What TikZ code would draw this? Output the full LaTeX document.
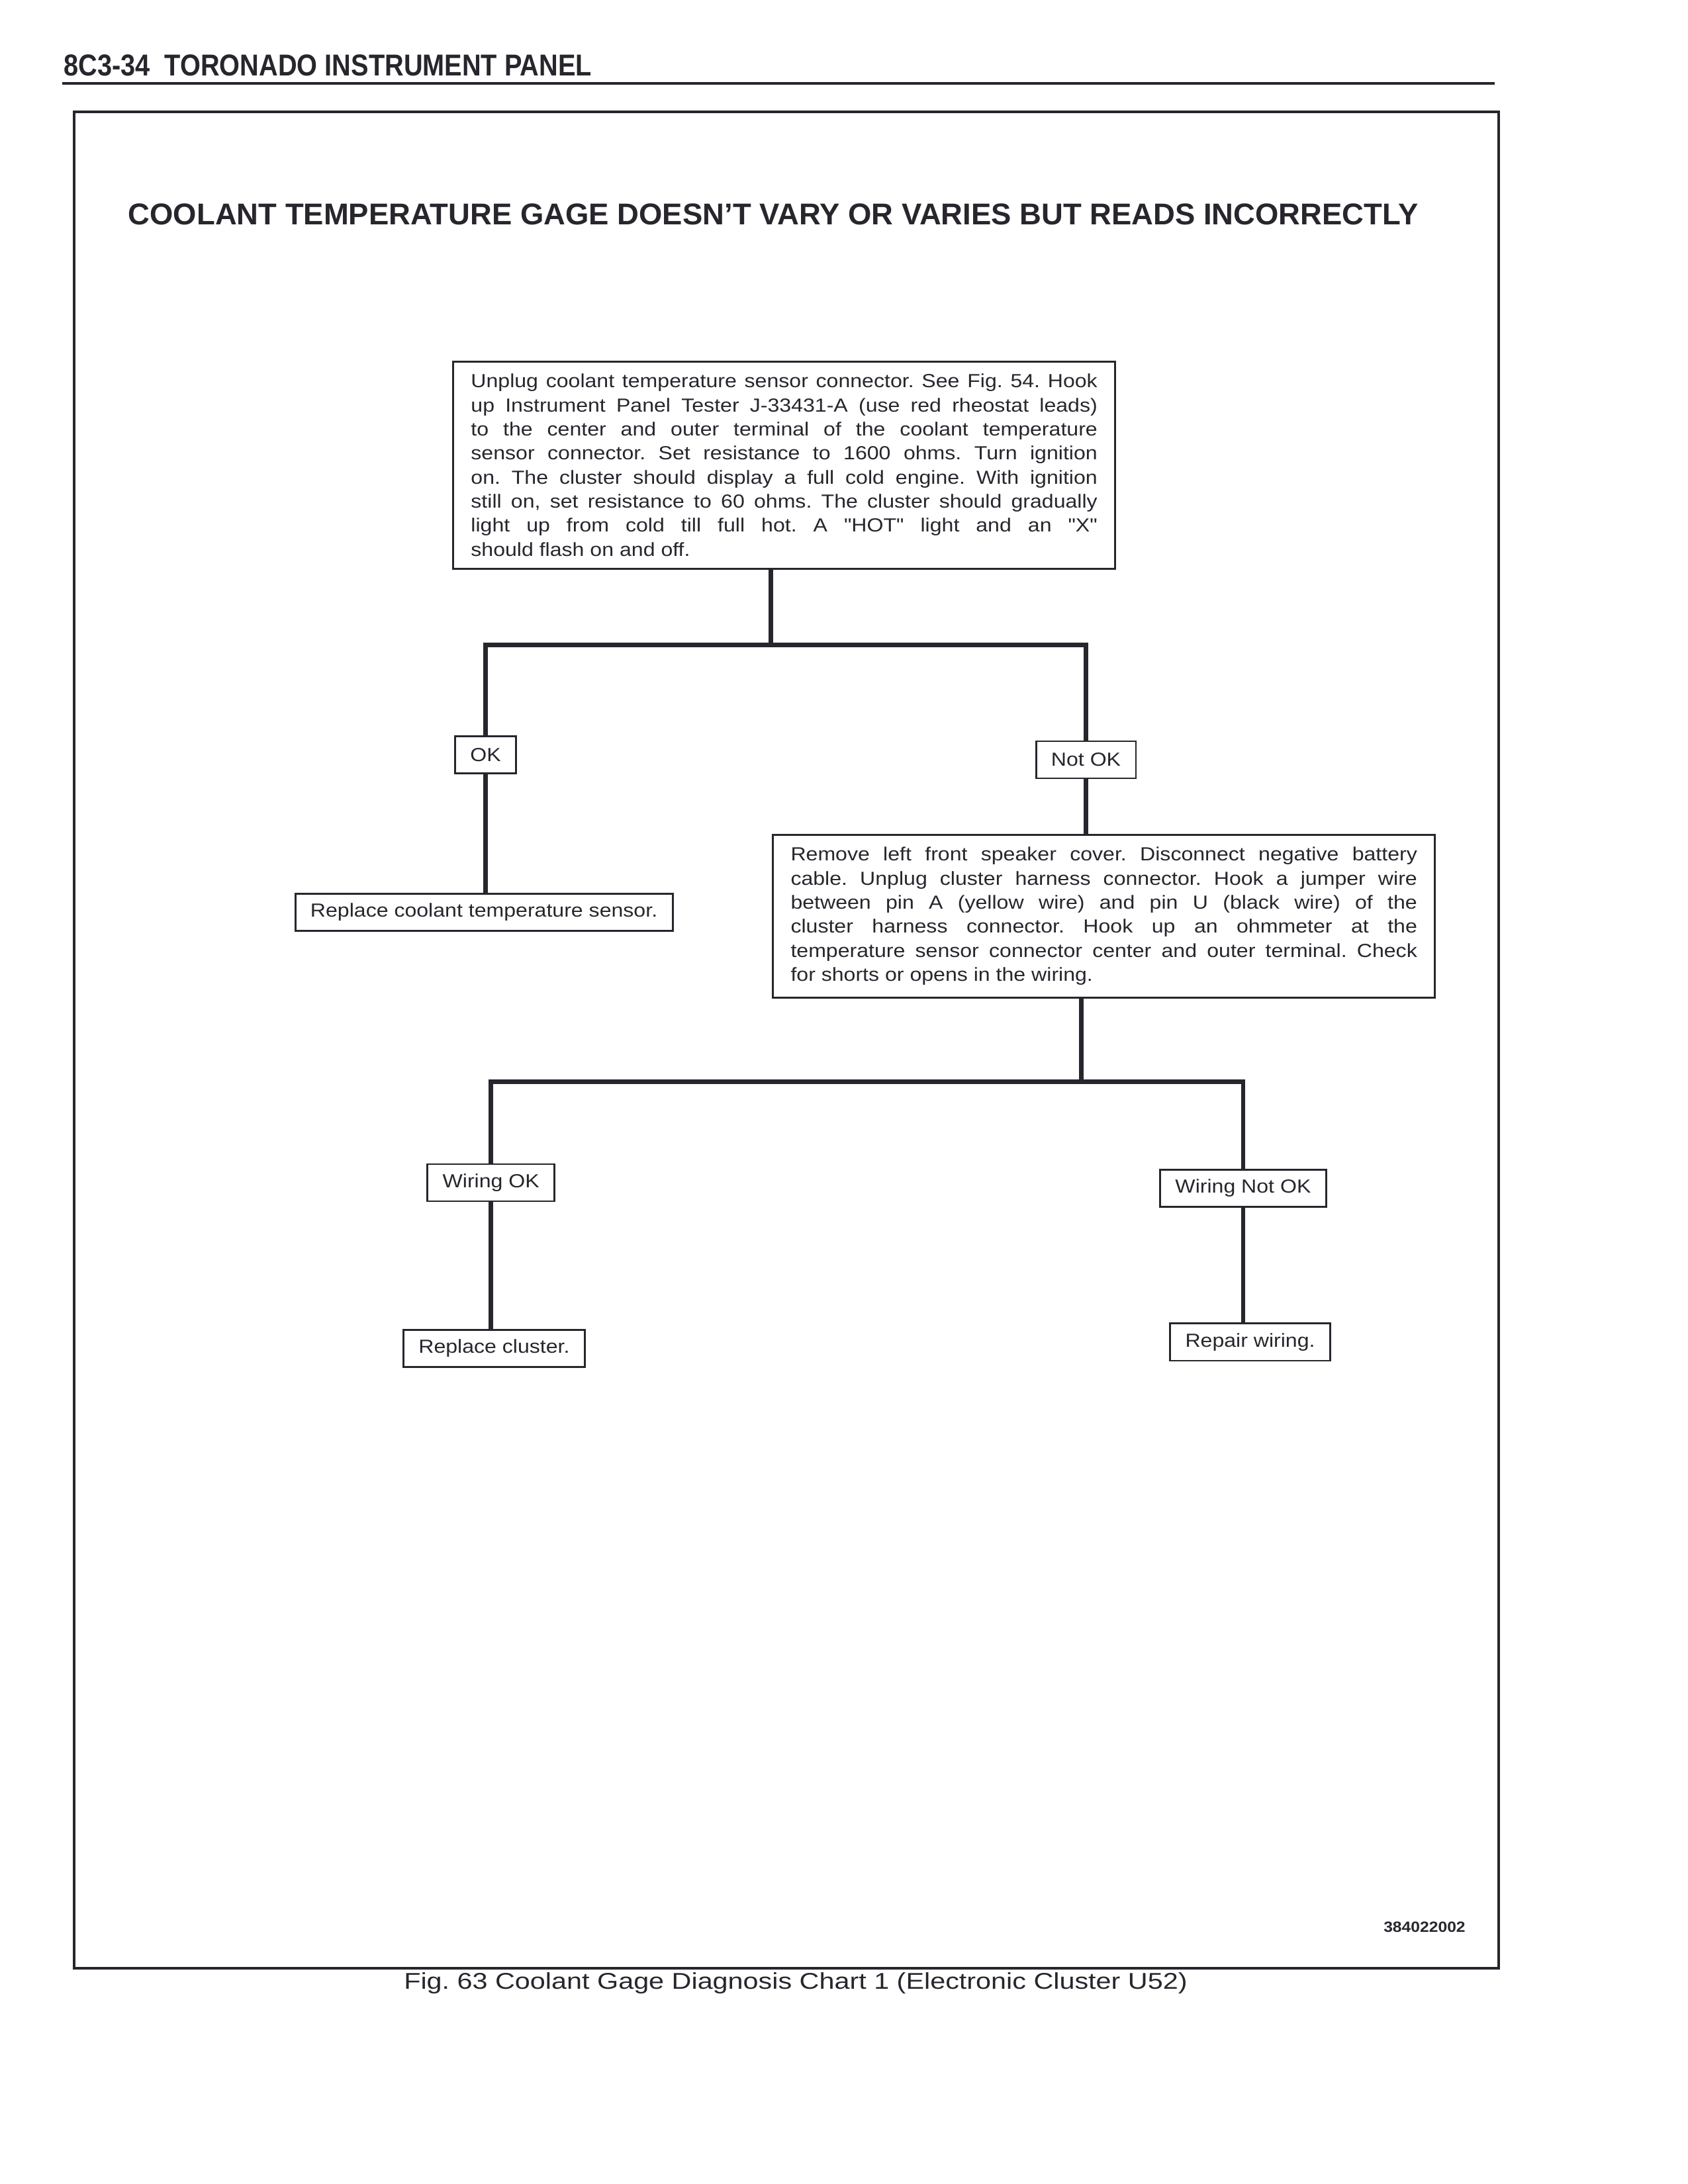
\documentclass[tikz,border=0pt]{standalone}
\usepackage{fontspec}
\setmainfont{Liberation Sans}
\newfontfamily\boxfont[FakeStretch=1.12]{Liberation Sans}
\newfontfamily\headfont[FakeStretch=0.87]{Liberation Sans}
\newfontfamily\capfont[FakeStretch=1.2]{Liberation Sans}
\newfontfamily\codefont[FakeStretch=1.1]{Liberation Sans}
\definecolor{ink}{RGB}{40,37,45}
\hyphenpenalty=10000
\exhyphenpenalty=10000
\tolerance=10000
\frenchspacing

\begin{document}
\begin{tikzpicture}[
  every node/.style={text=ink},
  task/.style={draw=ink,line width=0.7pt,text width=228pt,inner xsep=6.5pt,inner ysep=4.5pt,align=justify,font=\boxfont\fontsize{6.9}{8.75}\selectfont},
  answer/.style={draw=ink,line width=0.7pt,inner xsep=5.5pt,minimum height=13.5pt,font=\boxfont\fontsize{6.9}{8}\selectfont},
  link/.style={draw=ink,line width=1.6pt}
]
\useasboundingbox (0,0) rectangle (21.59,27.94);

\node[anchor=base west,inner sep=0pt,font=\headfont\bfseries\fontsize{11}{13}\selectfont] (head) at (0.81,26.97) {8C3-34\ \ TORONADO INSTRUMENT PANEL};
\draw[ink,line width=1pt] (0.80,26.87) -- (19.12,26.87);
\draw[ink,line width=1pt] (0.95,2.76) rectangle (19.17,26.51);

\node[font=\bfseries\fontsize{10.95}{12}\selectfont] (title) at (9.89,25.20) {COOLANT TEMPERATURE GAGE DOESN’T VARY OR VARIES BUT READS INCORRECTLY};

\node[task] (unplug) at (10.03,21.99) {Unplug coolant temperature sensor connector. See Fig. 54. Hook\linebreak
up Instrument Panel Tester J-33431-A (use red rheostat leads)\linebreak
to the center and outer terminal of the coolant temperature\linebreak
sensor connector. Set resistance to 1600 ohms. Turn ignition\linebreak
on. The cluster should display a full cold engine. With ignition\linebreak
still on, set resistance to 60 ohms. The cluster should gradually\linebreak
light up from cold till full hot. A "HOT" light and an "X"\linebreak
should flash on and off.};

\coordinate (fork1) at (9.86,19.69);
\node[answer] (ok) at (6.21,18.28) {OK};
\node[answer] (notok) at (13.89,18.22) {Not OK};
\node[answer] (sensor) at (6.19,16.27) {Replace coolant temperature sensor.};

\node[task] (wiring) at (14.12,16.22) {Remove left front speaker cover. Disconnect negative battery\linebreak
cable. Unplug cluster harness connector. Hook a jumper wire\linebreak
between pin A (yellow wire) and pin U (black wire) of the\linebreak
cluster harness connector. Hook up an ohmmeter at the\linebreak
temperature sensor connector center and outer terminal. Check\linebreak
for shorts or opens in the wiring.};

\coordinate (fork2) at (13.83,14.10);
\node[answer] (wireok) at (6.28,12.81) {Wiring OK};
\node[answer] (wirenotok) at (15.90,12.74) {Wiring Not OK};
\node[answer] (cluster) at (6.32,10.69) {Replace cluster.};
\node[answer] (repair) at (15.99,10.77) {Repair wiring.};

\draw[link] (unplug.south -| fork1) -- (fork1);
\draw[link] (ok) |- (fork1) -| (notok);
\draw[link] (ok) -- (ok |- sensor.north);
\draw[link] (notok) -- (notok |- wiring.north);

\draw[link] (wiring.south -| fork2) -- (fork2);
\draw[link] (wireok) |- (fork2) -| (wirenotok);
\draw[link] (wireok) -- (wireok |- cluster.north);
\draw[link] (wirenotok) -- (wirenotok |- repair.north);

\node[inner sep=0pt,font=\codefont\bfseries\fontsize{5.4}{6}\selectfont] (code) at (18.22,3.29) {384022002};
\node[anchor=base west,inner sep=0pt,font=\capfont\fontsize{8.3}{10}\selectfont] (caption) at (5.16,2.49) {Fig. 63 Coolant Gage Diagnosis Chart 1 (Electronic Cluster U52)};

\end{tikzpicture}
\end{document}
